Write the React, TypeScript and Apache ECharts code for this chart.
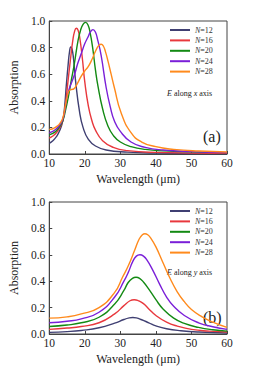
import React, { useEffect, useRef } from "react";
import * as echarts from "echarts";

const seriesNames = ["N=12", "N=16", "N=20", "N=24", "N=28"];
const seriesColors = ["#3f3f72", "#e8383d", "#138a13", "#7a1fd8", "#ff8a1c"];

// Panel (a): E along x axis — [wavelength, absorption]
const a12: number[][] = [[10,0.08],[11,0.1],[12,0.13],[13,0.18],[13.8,0.25],[14.3,0.35],[14.8,0.52],[15.3,0.67],[15.7,0.77],[16.05,0.805],[16.4,0.79],[16.8,0.72],[17.4,0.55],[18.5,0.32],[19.5,0.2],[21,0.11],[23,0.06],[26,0.03],[32,0.014],[40,0.007],[60,0.003]];
const a16: number[][] = [[10,0.12],[11,0.135],[12,0.16],[13,0.2],[13.8,0.25],[14.5,0.36],[15.3,0.555],[16,0.72],[16.6,0.85],[17.1,0.92],[17.6,0.945],[18.1,0.93],[18.6,0.87],[19.3,0.72],[20,0.54],[21,0.36],[22,0.25],[23,0.18],[25,0.1],[28,0.05],[32,0.025],[40,0.012],[60,0.005]];
const a20: number[][] = [[10,0.145],[11,0.155],[12,0.175],[13,0.21],[13.8,0.25],[14.5,0.32],[15.3,0.42],[16.2,0.555],[17,0.67],[18.1,0.855],[18.8,0.93],[19.5,0.975],[20.2,0.99],[20.9,0.97],[21.5,0.91],[22.2,0.8],[23,0.63],[23.7,0.51],[25,0.34],[26.5,0.21],[28,0.14],[30,0.09],[33,0.055],[37,0.035],[45,0.02],[60,0.01]];
const a24: number[][] = [[10,0.16],[11,0.17],[12,0.19],[13,0.22],[13.8,0.26],[14.4,0.33],[14.8,0.4],[15.5,0.48],[16.3,0.54],[17.2,0.605],[18,0.68],[19,0.755],[20,0.83],[20.9,0.88],[21.6,0.92],[22.3,0.935],[23,0.915],[23.6,0.86],[24.6,0.74],[26,0.5],[27.2,0.35],[28.3,0.25],[30,0.17],[33,0.09],[37,0.05],[42,0.03],[50,0.018],[60,0.01]];
const a28: number[][] = [[10,0.185],[11,0.19],[12,0.205],[13,0.23],[13.8,0.27],[14.5,0.36],[15.2,0.45],[15.7,0.48],[16.3,0.485],[16.9,0.49],[17.5,0.51],[18,0.535],[19,0.585],[20,0.625],[20.9,0.655],[22,0.71],[22.7,0.755],[23.5,0.8],[24,0.818],[24.6,0.825],[25.2,0.812],[25.8,0.77],[26.5,0.7],[27.4,0.6],[28.3,0.5],[30.2,0.31],[33,0.16],[36,0.09],[40,0.055],[45,0.035],[52,0.022],[60,0.015]];

// Panel (b): E along y axis — [wavelength, absorption]
const b12: number[][] = [[10,0.012],[15,0.018],[19,0.027],[24,0.047],[28.4,0.082],[31,0.11],[32.5,0.122],[33.5,0.125],[34.5,0.122],[36,0.108],[38,0.085],[40,0.062],[43,0.04],[47,0.025],[52,0.015],[60,0.008]];
const b16: number[][] = [[10,0.035],[15,0.045],[19,0.057],[24,0.085],[28.4,0.152],[31,0.215],[32.7,0.252],[33.9,0.26],[35,0.253],[36.5,0.23],[38,0.19],[40,0.14],[43,0.09],[46,0.06],[50,0.035],[55,0.022],[60,0.015]];
const b20: number[][] = [[10,0.057],[15,0.068],[19,0.085],[24,0.127],[28.4,0.227],[31,0.33],[32.2,0.39],[33.4,0.422],[34.4,0.43],[35.4,0.422],[36.6,0.39],[38,0.34],[40,0.26],[42,0.19],[45,0.12],[48,0.08],[52,0.05],[56,0.032],[60,0.022]];
const b24: number[][] = [[10,0.085],[15,0.097],[19,0.115],[24,0.165],[28.4,0.28],[31,0.4],[32.2,0.465],[33.5,0.55],[34.5,0.59],[35.5,0.6],[36.5,0.59],[37.5,0.56],[39,0.49],[41,0.38],[43,0.28],[45,0.21],[48,0.14],[52,0.085],[56,0.055],[60,0.035]];
const b28: number[][] = [[10,0.12],[15,0.13],[19,0.152],[24,0.2],[28.4,0.315],[30.6,0.43],[32.2,0.515],[34.1,0.64],[35.3,0.72],[36.2,0.752],[36.9,0.76],[37.7,0.752],[38.6,0.725],[40,0.66],[42,0.54],[44,0.42],[46,0.32],[48,0.245],[50,0.185],[53,0.13],[56,0.09],[60,0.05]];

const panelA = [a12, a16, a20, a24, a28];
const panelB = [b12, b16, b20, b24, b28];

const xTicks = { min: 10, max: 60, interval: 10 };
const yTicks = { min: 0, max: 1, interval: 0.2 };

const FONT = "'Liberation Serif', 'Times New Roman', 'DejaVu Serif', serif";

export default function App() {
  const ref = useRef<HTMLDivElement>(null);
  useEffect(() => {
    document.body.style.margin = "0";
    if (!ref.current) return;
    const chart = echarts.init(ref.current, null, { renderer: "svg" });

    const grids = [
      { left: 48, top: 21, width: 179, height: 133 },
      { left: 48, top: 202, width: 179, height: 133 },
    ];

    const mkX = (gi: number) => ({
      type: "value",
      gridIndex: gi,
      min: xTicks.min,
      max: xTicks.max,
      interval: xTicks.interval,
      name: "Wavelength (μm)",
      nameLocation: "middle",
      nameGap: 19,
      nameTextStyle: { fontFamily: FONT, fontSize: 12, color: "#222" },
      axisLine: { show: true, lineStyle: { color: "#444", width: 1 } },
      axisTick: { show: true, inside: true, length: 3, lineStyle: { color: "#444" } },
      axisLabel: { fontFamily: FONT, fontSize: 11.5, color: "#222", margin: 3 },
      splitLine: { show: false },
    });
    const mkY = (gi: number) => ({
      type: "value",
      gridIndex: gi,
      min: yTicks.min,
      max: yTicks.max,
      interval: yTicks.interval,
      name: "Absorption",
      nameLocation: "middle",
      nameGap: 28,
      nameTextStyle: { fontFamily: FONT, fontSize: 12, color: "#222" },
      axisLine: { show: true, lineStyle: { color: "#444", width: 1 } },
      axisTick: { show: true, inside: true, length: 3, lineStyle: { color: "#444" } },
      axisLabel: {
        fontFamily: FONT, fontSize: 11.5, color: "#222", margin: 4,
        formatter: (v: number) => v.toFixed(1),
      },
      splitLine: { show: false },
    });

    const series: any[] = [];
    [panelA, panelB].forEach((panel, gi) => {
      panel.forEach((data, i) => {
        series.push({
          type: "line",
          name: seriesNames[i],
          xAxisIndex: gi,
          yAxisIndex: gi,
          data,
          smooth: 0.5,
          showSymbol: false,
          symbol: "none",
          lineStyle: { color: seriesColors[i], width: 1.4 },
          itemStyle: { color: seriesColors[i] },
          z: 2 + i,
        });
      });
    });

    const legendText = {
      fontFamily: FONT,
      fontSize: 8,
      color: "#333",
      lineHeight: 10,
      rich: {
        i: { fontFamily: FONT, fontSize: 8, fontStyle: "italic", color: "#333", lineHeight: 10 },
        n: { fontFamily: FONT, fontSize: 8, color: "#333", lineHeight: 10 },
      },
    };
    const legendFmt = (name: string) => `{i|N}{n|${name.slice(1)}}`;
    const mkLegend = (top: number) => ({
      orient: "vertical",
      left: 170,
      top,
      itemWidth: 20,
      itemHeight: 2,
      itemGap: 0.4,
      icon: "rect",
      padding: 0,
      data: seriesNames,
      formatter: legendFmt,
      textStyle: legendText,
    });

    const noteRich = {
      i: { fontFamily: FONT, fontSize: 8, fontStyle: "italic", fill: "#222", color: "#222" },
      r: { fontFamily: FONT, fontSize: 8, fill: "#222", color: "#222" },
    };

    chart.setOption({
      animation: false,
      backgroundColor: "#fff",
      grid: grids.map((g) => ({ ...g, show: true, borderColor: "#444", borderWidth: 1, backgroundColor: "transparent" })),
      xAxis: [mkX(0), mkX(1)],
      yAxis: [mkY(0), mkY(1)],
      legend: [mkLegend(25), mkLegend(206)],
      series,
      graphic: [
        {
          type: "text", left: 167, top: 89,
          style: { text: "{i|E}{r| along }{i|x}{r| axis}", rich: noteRich, fontFamily: FONT, fontSize: 8, fill: "#222" },
        },
        {
          type: "text", left: 167, top: 268,
          style: { text: "{i|E}{r| along }{i|y}{r| axis}", rich: noteRich, fontFamily: FONT, fontSize: 8, fill: "#222" },
        },
        {
          type: "text", left: 203, top: 128,
          style: { text: "(a)", fontFamily: FONT, fontSize: 16, fill: "#222" },
        },
        {
          type: "text", left: 203, top: 309,
          style: { text: "(b)", fontFamily: FONT, fontSize: 16, fill: "#222" },
        },
      ],
    });
    return () => chart.dispose();
  }, []);
  return <div ref={ref} style={{ width: 263, height: 366 }} />;
}
